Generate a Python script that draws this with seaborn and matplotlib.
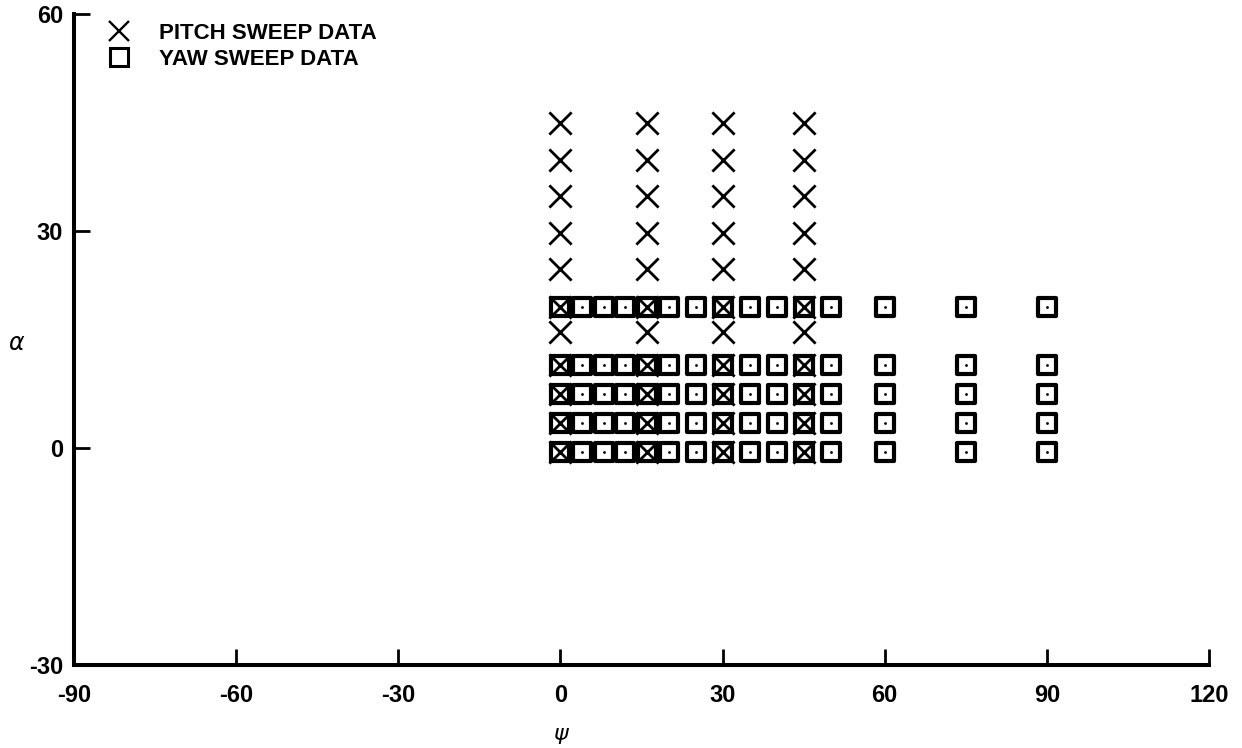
import matplotlib
matplotlib.use("Agg")
import matplotlib.pyplot as plt
import pandas as pd
import seaborn as sns
from matplotlib.lines import Line2D

# ---- data ----
pitch_psi = [0, 16, 30, 45]
pitch_alpha = [-0.5, 3.5, 7.5, 11.5, 16, 19.5, 24.8, 29.7, 34.8, 39.8, 44.9]
yaw_psi = [0, 4, 8, 12, 16, 20, 25, 30, 35, 40, 45, 50, 60, 75, 90]
yaw_alpha = [-0.5, 3.5, 7.5, 11.5, 19.5]
x_ticks = [-90, -60, -30, 0, 30, 60, 90, 120]
y_ticks = [-30, 0, 30, 60]
legend_labels = ["PITCH SWEEP DATA", "YAW SWEEP DATA"]
x_label = "ψ"
y_label = "α"

sns.set_theme(style="white", rc={
    "text.color": "black", "axes.labelcolor": "black",
    "xtick.color": "black", "ytick.color": "black",
    "axes.edgecolor": "black",
    "xtick.bottom": True, "ytick.left": True,
})
plt.rcParams["font.family"] = ["Liberation Sans", "DejaVu Sans"]
plt.rcParams["axes.unicode_minus"] = False

pitch = pd.DataFrame([(p, a) for p in pitch_psi for a in pitch_alpha],
                     columns=["psi", "alpha"])
yaw = pd.DataFrame([(p, a) for p in yaw_psi for a in yaw_alpha],
                   columns=["psi", "alpha"])

W, H = 1242, 748
fig = plt.figure(figsize=(W / 100, H / 100), dpi=100)
left, right, bottom, top = 74, 1209, 665, 14
ax = fig.add_axes([left / W, 1 - bottom / H, (right - left) / W, (bottom - top) / H])

sns.scatterplot(data=yaw, x="psi", y="alpha", marker="s", s=13.5 ** 2,
                color="white", edgecolor="black", linewidth=3.0,
                ax=ax, legend=False, zorder=3)
sns.scatterplot(data=yaw, x="psi", y="alpha", marker="o", s=2.0 ** 2,
                color="black", linewidth=0, ax=ax, legend=False, zorder=4)
sns.scatterplot(data=pitch, x="psi", y="alpha", marker="x", s=16 ** 2,
                color="black", linewidth=2.0, ax=ax, legend=False, zorder=5)

ax.set_xlim(-90, 120)
ax.set_ylim(-30, 60)
ax.set_xticks(x_ticks)
ax.set_yticks(y_ticks)
for s in ["top", "right"]:
    ax.spines[s].set_visible(False)
for s in ["left", "bottom"]:
    ax.spines[s].set_linewidth(2.9)
    ax.spines[s].set_capstyle("projecting")
ax.tick_params(axis="both", which="major", direction="in", length=11.5,
               width=2.0, labelsize=17, bottom=True, left=True)
ax.tick_params(axis="y", pad=8)
ax.tick_params(axis="x", pad=14)
for lab in ax.get_xticklabels() + ax.get_yticklabels():
    lab.set_fontweight("bold")

ax.set_xlabel(x_label, fontsize=16, style="italic", family="DejaVu Sans",
              va="center", ha="center")
ax.xaxis.set_label_coords((560 - left) / (right - left),
                          (bottom - 734) / (bottom - top))
ax.set_ylabel(y_label, fontsize=17, style="italic", family="DejaVu Sans",
              rotation=0, va="center", ha="center")
ax.yaxis.set_label_coords((16 - left) / (right - left),
                          (bottom - 343) / (bottom - top))

handles = [
    Line2D([], [], linestyle="none", marker="x", markersize=15,
           markeredgewidth=1.7, color="black"),
    Line2D([], [], linestyle="none", marker="s", markersize=13,
           markeredgewidth=2.2, markerfacecolor="white",
           markeredgecolor="black"),
]
leg = ax.legend(handles, legend_labels, loc="upper left",
                bbox_to_anchor=(107.6 / W, 1 - 23 / H),
                bbox_transform=fig.transFigure, frameon=False,
                borderpad=0, borderaxespad=0, handlelength=1.0,
                handletextpad=1.3, labelspacing=0.22,
                prop={"size": 16, "weight": "bold"})

fig.savefig("out.png", dpi=100)
